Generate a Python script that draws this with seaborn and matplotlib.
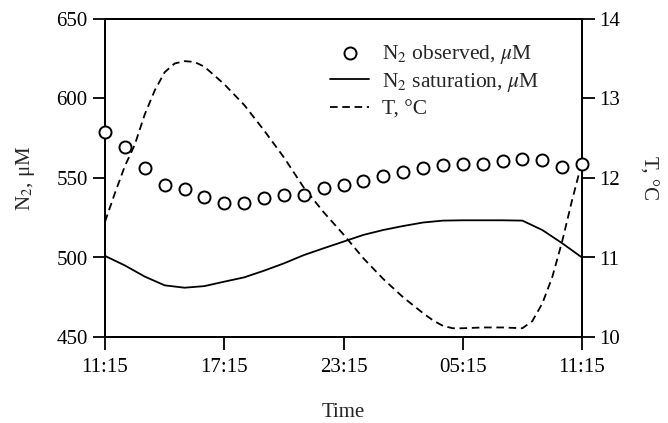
import matplotlib
matplotlib.use('Agg')
import matplotlib.pyplot as plt
import seaborn as sns
import pandas as pd

# data (hours since 11:15)
obs_hours = list(range(25))
n2_observed = [579, 569.5, 556.5, 545.5, 543, 538, 534.5, 534.5, 537.5, 539,
               539.5, 544, 545.5, 548, 551, 554, 556, 558, 558.5, 558.5,
               561, 561.8, 561.3, 557, 558.8]

sat_hours = list(range(25))
n2_saturation = [501, 495, 488, 482.5, 481, 482, 484.8, 487.5, 491.7, 496.3,
                 501.5, 505.8, 510, 514.2, 517.3, 519.8, 522, 523.2, 523.4, 523.4,
                 523.4, 523.2, 517.3, 509, 500]

temp_hours = [0, 0.5, 1, 1.5, 2, 2.5, 3, 3.5, 4, 4.5, 5, 5.5, 6, 7, 8, 9, 10, 11,
              12, 13, 14, 15, 16, 16.5, 17, 17.5, 18, 19, 20, 21, 21.5, 22, 22.5,
              23, 23.5, 24]
temperature = [11.45, 11.81, 12.15, 12.42, 12.8, 13.1, 13.33, 13.44, 13.47, 13.46,
               13.40, 13.29, 13.18, 12.92, 12.6, 12.26, 11.88, 11.57, 11.29, 10.99,
               10.73, 10.5, 10.3, 10.21, 10.14, 10.11, 10.11, 10.12, 10.12, 10.11,
               10.2, 10.42, 10.75, 11.2, 11.72, 12.2]

tick_hours = [0, 6, 12, 18, 24]
tick_labels = ['11:15', '17:15', '23:15', '05:15', '11:15']

df_obs = pd.DataFrame({'h': obs_hours, 'v': n2_observed})
df_sat = pd.DataFrame({'h': sat_hours, 'v': n2_saturation})
df_t = pd.DataFrame({'h': temp_hours, 'v': temperature})

sns.set_theme(style='ticks')
plt.rcParams['font.family'] = ['Liberation Serif', 'DejaVu Serif']
plt.rcParams['mathtext.fontset'] = 'stix'
plt.rcParams['font.size'] = 15

fig, ax = plt.subplots(figsize=(6.68, 4.23), dpi=100)
fig.subplots_adjust(left=105/668, right=582/668, top=1-19/423, bottom=1-337/423)
ax2 = ax.twinx()

sns.lineplot(data=df_sat, x='h', y='v', ax=ax, color='black', lw=1.3,
             label='N$_2$ saturation, $\\mu$M', legend=False)
sns.scatterplot(data=df_obs, x='h', y='v', ax=ax, marker='o', s=75,
                facecolor='white', edgecolor='black', linewidth=1.4,
                label='N$_2$ observed, $\\mu$M', legend=False, clip_on=False, zorder=5)
sns.lineplot(data=df_t, x='h', y='v', ax=ax2, color='black', lw=1.3,
             linestyle=(0, (4.2, 2.6)), label='T, °C', legend=False)

ax.set_zorder(ax2.get_zorder() + 1)
ax.patch.set_visible(False)

ax.set_xlim(0, 24)
ax.set_ylim(450, 650)
ax2.set_ylim(10, 14)
ax.set_xticks(tick_hours)
ax.set_xticklabels(tick_labels)
ax.set_yticks([450, 500, 550, 600, 650])
ax2.set_yticks([10, 11, 12, 13, 14])

ax.set_xlabel('Time', fontsize=15, labelpad=19)
ax.set_ylabel('N$_2$, μM', fontsize=15, labelpad=14)
ax2.set_ylabel('T, °C', fontsize=15, rotation=270, labelpad=27)

for a in (ax, ax2):
    for s in a.spines.values():
        s.set_visible(True)
        s.set_linewidth(1.3)
        s.set_color('black')
    a.tick_params(direction='out', length=9, width=1.3, labelsize=15, colors='black')
ax.tick_params(axis='x', pad=6)

h1, l1 = ax.get_legend_handles_labels()
h2, l2 = ax2.get_legend_handles_labels()
handles = [h1[1], h1[0], h2[0]]
labels = [l1[1], l1[0], l2[0]]
ax.legend(handles, labels, loc='upper left', bbox_to_anchor=(0.472, 0.925),
          frameon=False, fontsize=15.5, handlelength=1.8, handletextpad=0.6,
          labelspacing=0.24, borderpad=0, borderaxespad=0)

plt.savefig('out.png', dpi=100)
